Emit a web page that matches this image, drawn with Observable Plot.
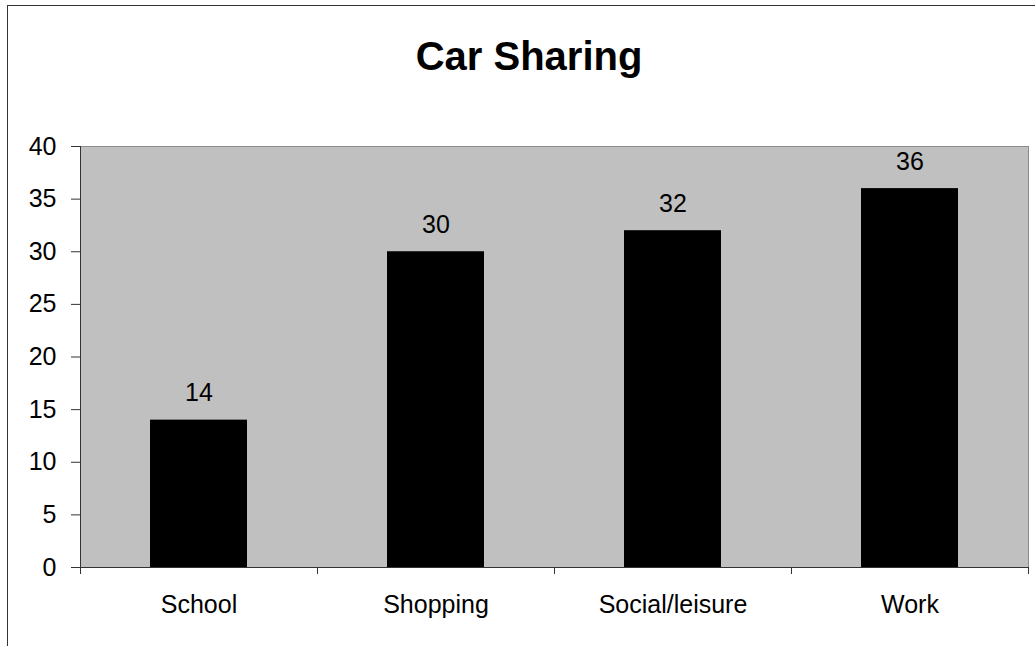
<!DOCTYPE html>
<html>
<head>
<meta charset="utf-8">
<script src="https://cdn.jsdelivr.net/npm/d3@7"></script>
<script src="https://cdn.jsdelivr.net/npm/@observablehq/plot@0.6"></script>
<style>
  html, body { margin: 0; padding: 0; background: #fff; }
  #wrap { position: relative; width: 1035px; height: 646px; overflow: hidden; font-family: "Liberation Sans", Arial, Helvetica, sans-serif; }
  #border { position: absolute; left: 7px; top: 5px; width: 1100px; height: 700px; border-left: 1px solid #333; border-top: 1px solid #333; box-sizing: border-box; }
  #chart { position: absolute; left: 0; top: 0; }
  #title { position: absolute; left: 0; top: 36px; width: 1058px; text-align: center; font-size: 40px; line-height: 40px; font-weight: bold; color: #000; }
</style>
</head>
<body>
<div id="wrap">
  <div id="border"></div>
  <div id="chart"></div>
  <div id="title">Car Sharing</div>
</div>
<script>
const categories = ["School", "Shopping", "Social/leisure", "Work"];
const values = [14, 30, 32, 36];
const yTicks = [0, 5, 10, 15, 20, 25, 30, 35, 40];

const data = categories.map((c, i) => ({category: c, value: values[i]}));

const W = 1035, H = 646;
const mL = 80, mR = 7, mT = 146, mB = 79;
const step = (W - mL - mR) / categories.length;
const plotH = H - mT - mB;

const chart = Plot.plot({
  width: W,
  height: H,
  marginLeft: mL,
  marginRight: mR,
  marginTop: mT,
  marginBottom: mB,
  style: {fontFamily: "Liberation Sans, Arial, Helvetica, sans-serif", background: "transparent", color: "#000"},
  x: {domain: categories, padding: 0},
  y: {domain: [0, 40]},
  marks: [
    Plot.frame({fill: "#c0c0c0", stroke: "#8c8c8c"}),
    Plot.barY(data, {x: "category", y: "value", fill: "#000", insetLeft: 70, insetRight: 70}),
    Plot.ruleY([0], {stroke: "#333"}),
    Plot.ruleX([categories[0]], {stroke: "#333", dx: -step / 2, insetBottom: -7}),
    Plot.ruleX(categories.slice(1), {stroke: "#333", dx: -step / 2, insetTop: plotH, insetBottom: -7}),
    Plot.ruleX([categories[categories.length - 1]], {stroke: "#333", dx: step / 2, insetTop: plotH, insetBottom: -7}),
    Plot.axisY({ticks: yTicks, tickSize: 9, tickPadding: 15, fontSize: 25, stroke: "#333", fill: "#000", label: null}),
    Plot.axisX({tickSize: 0, tickPadding: 28, fontSize: 25, fill: "#000", label: null}),
    Plot.text(data, {x: "category", y: "value", text: d => String(d.value), dy: -27, fontSize: 25, fill: "#000"})
  ]
});
document.getElementById("chart").appendChild(chart);
</script>
</body>
</html>
